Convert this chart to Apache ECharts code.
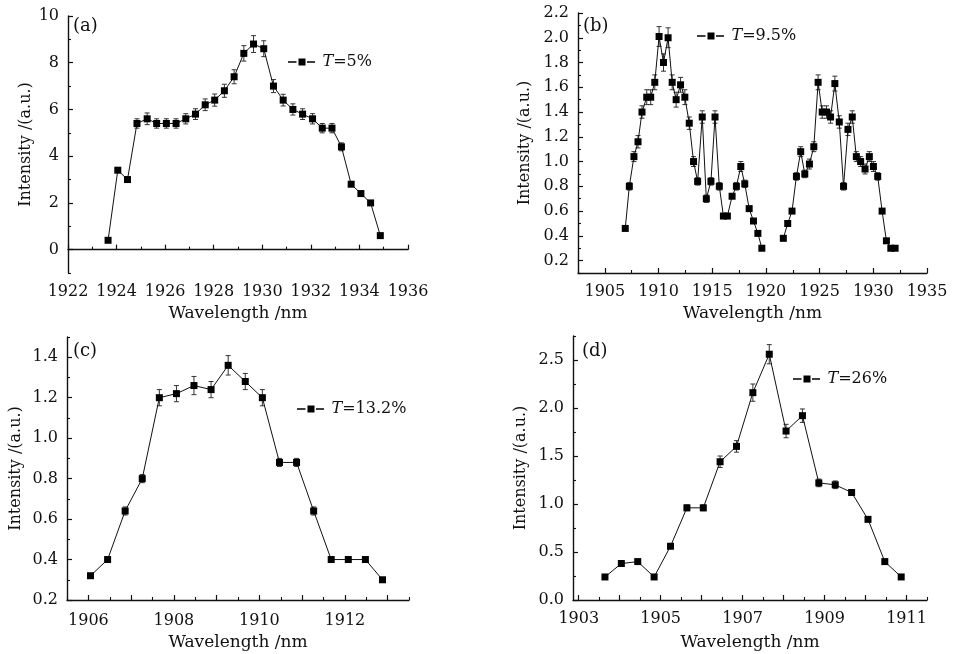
<!DOCTYPE html>
<html><head><meta charset="utf-8">
<script src="https://cdn.jsdelivr.net/npm/echarts@6/dist/echarts.min.js"></script>
<style>html,body{margin:0;padding:0;background:#fff}#c{width:953px;height:654px}</style>
</head><body><div id="c"></div>
<script>
// ---------- Panel (a): T=5% ----------
const aX = [1923.65,1924.05,1924.45,1924.84,1925.26,1925.65,1926.05,1926.45,1926.85,1927.25,1927.65,1928.04,1928.44,1928.84,1929.24,1929.64,1930.06,1930.46,1930.86,1931.26,1931.66,1932.07,1932.47,1932.87,1933.26,1933.66,1934.06,1934.46,1934.86];
const aY = [0.4,3.4,3.0,5.4,5.6,5.4,5.4,5.4,5.6,5.8,6.2,6.4,6.8,7.4,8.4,8.8,8.6,7.0,6.4,6.0,5.8,5.6,5.2,5.2,4.4,2.8,2.4,2.0,0.6];
const aErr = [0,0,0,0.2,0.25,0.2,0.2,0.2,0.22,0.23,0.25,0.26,0.28,0.3,0.33,0.36,0.34,0.28,0.25,0.24,0.23,0.22,0.2,0.2,0.17,0,0,0,0];
const aXMajor = [1922,1924,1926,1928,1930,1932,1934,1936];
const aXLabels = [1922,1924,1926,1928,1930,1932,1934,1936];
const aXMinor = [1923,1925,1927,1929,1931,1933,1935];
const aYMajor = [0,2,4,6,8,10];
const aYLabels = [0,2,4,6,8,10];
const aYMinor = [-1,1,3,5,7,9];

// ---------- Panel (b): T=9.5% ----------
const bX = [1906.90,1907.28,1907.71,1908.09,1908.46,1908.90,1909.27,1909.65,1910.05,1910.46,1910.89,1911.27,1911.64,1912.05,1912.45,1912.86,1913.26,1913.64,1914.07,1914.45,1914.88,1915.26,1915.66,1916.04,1916.41,1916.85,1917.25,1917.66,1918.03,1918.44,1918.84,1919.25,1919.62,
  1920.6,
  1921.62,1922.03,1922.43,1922.84,1923.24,1923.62,1924.05,1924.46,1924.86,1925.24,1925.64,1926.02,1926.42,1926.83,1927.23,1927.64,1928.04,1928.42,1928.82,1929.23,1929.63,1930.01,1930.41,1930.82,1931.22,1931.63,1932.03];
const bY = [0.46,0.80,1.04,1.16,1.40,1.52,1.52,1.64,2.01,1.80,2.00,1.64,1.50,1.62,1.52,1.31,1.00,0.84,1.36,0.70,0.84,1.36,0.80,0.56,0.56,0.72,0.80,0.96,0.82,0.62,0.52,0.42,0.30,
  null,
  0.38,0.50,0.60,0.88,1.08,0.90,0.98,1.12,1.64,1.40,1.40,1.36,1.63,1.32,0.80,1.26,1.36,1.04,1.00,0.94,1.04,0.96,0.88,0.60,0.36,0.30,0.30];
const bErr = [0,0.03,0.04,0.05,0.05,0.06,0.06,0.06,0.08,0.07,0.08,0.06,0.06,0.06,0.06,0.05,0.04,0.03,0.05,0.03,0.03,0.05,0.03,0,0,0,0.03,0.04,0.03,0,0,0,0,
  0,
  0,0,0,0.03,0.04,0.03,0.04,0.04,0.06,0.05,0.05,0.05,0.06,0.05,0.03,0.05,0.05,0.04,0.04,0.04,0.04,0.04,0.03,0,0,0,0];
const bXMajor = [1905,1910,1915,1920,1925,1930,1935];
const bXLabels = [1905,1910,1915,1920,1925,1930,1935];
const bXMinor = [1902.5,1907.5,1912.5,1917.5,1922.5,1927.5,1932.5];
const bYMajor = [0.2,0.4,0.6,0.8,1.0,1.2,1.4,1.6,1.8,2.0,2.2];
const bYLabels = [0.2,0.4,0.6,0.8,1.0,1.2,1.4,1.6,1.8,2.0,2.2];
const bYMinor = [0.1,0.3,0.5,0.7,0.9,1.1,1.3,1.5,1.7,1.9,2.1];

// ---------- Panel (c): T=13.2% ----------
const cX = [1906.05,1906.45,1906.86,1907.26,1907.66,1908.06,1908.47,1908.87,1909.27,1909.67,1910.07,1910.47,1910.87,1911.27,1911.68,1912.08,1912.48,1912.88];
const cY = [0.32,0.40,0.64,0.80,1.20,1.22,1.26,1.24,1.36,1.28,1.20,0.88,0.88,0.64,0.40,0.40,0.40,0.30];
const cErr = [0,0,0.02,0.02,0.04,0.04,0.045,0.04,0.048,0.04,0.04,0.02,0.02,0.02,0,0,0,0];
const cXMajor = [1906,1907,1908,1909,1910,1911,1912,1913];
const cXLabels = [1906,1908,1910,1912];
const cXMinor = [1905.5,1906.5,1907.5,1908.5,1909.5,1910.5,1911.5,1912.5,1913.5];
const cYMajor = [0.2,0.4,0.6,0.8,1.0,1.2,1.4];
const cYLabels = [0.2,0.4,0.6,0.8,1.0,1.2,1.4];
const cYMinor = [0.3,0.5,0.7,0.9,1.1,1.3,1.5];

// ---------- Panel (d): T=26% ----------
const dX = [1903.64,1904.04,1904.44,1904.84,1905.24,1905.64,1906.04,1906.45,1906.85,1907.25,1907.65,1908.06,1908.46,1908.86,1909.26,1909.66,1910.06,1910.47,1910.87];
const dY = [0.24,0.38,0.40,0.24,0.56,0.96,0.96,1.44,1.60,2.16,2.56,1.76,1.92,1.22,1.20,1.12,0.84,0.40,0.24];
const dErr = [0,0,0,0,0,0.03,0.03,0.06,0.06,0.09,0.1,0.07,0.07,0.04,0.04,0.03,0.02,0,0];
const dXMajor = [1903,1904,1905,1906,1907,1908,1909,1910,1911];
const dXLabels = [1903,1905,1907,1909,1911];
const dXMinor = [1903.5,1904.5,1905.5,1906.5,1907.5,1908.5,1909.5,1910.5,1911.5];
const dYMajor = [0,0.5,1.0,1.5,2.0,2.5];
const dYLabels = [0,0.5,1.0,1.5,2.0,2.5];
const dYMinor = [0.25,0.75,1.25,1.75,2.25,2.75];

const FONT = 'DejaVu Serif';
const INK = '#111';
const LEGEND_ICON = 'path://M0,2.8h8.5v1.4h-8.5zM10.5,0h7v7h-7zM19,2.8h8v1.4h-8z';

const panels = [
  {tag:'(a)', name:'T=5%', x:aX, y:aY, err:aErr, grid:{left:68,top:16,width:340,height:257},
   xMin:1922, xMax:1936, xMajor:aXMajor, xLabels:aXLabels, xMinor:aXMinor,
   yMin:-1, yMax:10, yMajor:aYMajor, yLabels:aYLabels, yMinor:aYMinor, yDec:0, yGap:34, xGap:32, xMargin:11,
   legend:{left:288, top:54}, tagPos:[73,17]},
  {tag:'(b)', name:'T=9.5%', x:bX, y:bY, err:bErr, grid:{left:578,top:13,width:349,height:260},
   xMin:1902.5, xMax:1935, xMajor:bXMajor, xLabels:bXLabels, xMinor:bXMinor,
   yMin:0.1, yMax:2.2, yMajor:bYMajor, yLabels:bYLabels, yMinor:bYMinor, yDec:1, yGap:45, xGap:32, xMargin:11,
   legend:{left:697, top:28}, tagPos:[583,17]},
  {tag:'(c)', name:'T=13.2%', x:cX, y:cY, err:cErr, grid:{left:67,top:337,width:342,height:263},
   xMin:1905.5, xMax:1913.5, xMajor:cXMajor, xLabels:cXLabels, xMinor:cXMinor,
   yMin:0.2, yMax:1.5, yMajor:cYMajor, yLabels:cYLabels, yMinor:cYMinor, yDec:1, yGap:43, xGap:34, xMargin:13,
   legend:{left:297, top:401}, tagPos:[73,342]},
  {tag:'(d)', name:'T=26%', x:dX, y:dY, err:dErr, grid:{left:573,top:336,width:354,height:264},
   xMin:1902.86, xMax:1911.5, xMajor:dXMajor, xLabels:dXLabels, xMinor:dXMinor,
   yMin:0, yMax:2.75, yMajor:dYMajor, yLabels:dYLabels, yMinor:dYMinor, yDec:1, yGap:44, xGap:34, xMargin:11,
   legend:{left:793, top:371}, tagPos:[582,342]}
];

const option = {animation:false, backgroundColor:'#fff', grid:[], xAxis:[], yAxis:[], series:[], legend:[], graphic:[]};

panels.forEach((p, i) => {
  option.grid.push(Object.assign({containLabel:false}, p.grid));
  const axLine = {show:true, lineStyle:{color:INK, width:1.4}};
  option.xAxis.push({
    type:'value', gridIndex:i, min:p.xMin, max:p.xMax, position:'bottom',
    name:'Wavelength /nm', nameLocation:'middle', nameGap:p.xGap,
    nameTextStyle:{fontFamily:FONT, fontSize:17, color:INK},
    axisLine:axLine, splitLine:{show:false},
    axisTick:{show:true, inside:true, length:5, lineStyle:{color:INK, width:1.2}, customValues:p.xMajor},
    axisLabel:{show:true, customValues:p.xLabels, margin:p.xMargin, fontFamily:FONT, fontSize:16, color:INK,
      formatter:v => String(Math.round(v))}
  });
  option.xAxis.push({
    type:'value', gridIndex:i, min:p.xMin, max:p.xMax, position:'bottom',
    axisLine:{show:false}, splitLine:{show:false}, axisLabel:{show:false},
    axisTick:{show:true, inside:true, length:3, lineStyle:{color:INK, width:1.1}, customValues:p.xMinor}
  });
  option.yAxis.push({
    type:'value', gridIndex:i, min:p.yMin, max:p.yMax, position:'left',
    name:'Intensity /(a.u.)', nameLocation:'middle', nameGap:p.yGap,
    nameTextStyle:{fontFamily:FONT, fontSize:16, color:INK},
    axisLine:axLine, splitLine:{show:false},
    axisTick:{show:true, inside:true, length:5, lineStyle:{color:INK, width:1.2}, customValues:p.yMajor},
    axisLabel:{show:true, customValues:p.yLabels, margin:9, fontFamily:FONT, fontSize:16, color:INK,
      formatter:v => Number(v).toFixed(p.yDec)}
  });
  option.yAxis.push({
    type:'value', gridIndex:i, min:p.yMin, max:p.yMax, position:'left',
    axisLine:{show:false}, splitLine:{show:false}, axisLabel:{show:false},
    axisTick:{show:true, inside:true, length:3, lineStyle:{color:INK, width:1.1}, customValues:p.yMinor}
  });
  const xi = i*2, yi = i*2;
  const lineData = p.x.map((x, k) => [x, p.y[k] === null ? '-' : p.y[k]]);
  const errData = p.x.map((x, k) => [x, p.y[k] === null ? 0 : p.y[k], p.err[k]]).filter((d, k) => p.y[k] !== null && p.err[k] > 0);
  option.series.push({
    type:'custom', xAxisIndex:xi, yAxisIndex:yi, z:1, silent:true,
    encode:{x:0, y:1},
    data:errData,
    renderItem:(params, api) => {
      const x = api.value(0), y = api.value(1), e = api.value(2);
      const top = api.coord([x, y + e]);
      const bot = api.coord([x, y - e]);
      const cap = 2.5;
      const st = {stroke:'#333', lineWidth:1};
      return {type:'group', children:[
        {type:'line', shape:{x1:top[0], y1:top[1], x2:bot[0], y2:bot[1]}, style:st},
        {type:'line', shape:{x1:top[0]-cap, y1:top[1], x2:top[0]+cap, y2:top[1]}, style:st},
        {type:'line', shape:{x1:bot[0]-cap, y1:bot[1], x2:bot[0]+cap, y2:bot[1]}, style:st}
      ]};
    }
  });
  option.series.push({
    type:'line', name:p.name, xAxisIndex:xi, yAxisIndex:yi, z:3,
    data:lineData, connectNulls:false, showAllSymbol:true,
    symbol:'rect', symbolSize:7,
    lineStyle:{color:INK, width:1},
    itemStyle:{color:'#000'}
  });
  option.legend.push({
    data:[{name:p.name, icon:LEGEND_ICON}], left:p.legend.left, top:p.legend.top, orient:'horizontal', padding:0,
    itemWidth:28, itemHeight:7, selectedMode:false,
    itemStyle:{color:'#000', borderWidth:0},
    formatter:n => '{i|T}' + n.slice(1),
    textStyle:{fontFamily:FONT, fontSize:16, color:INK, padding:[0,0,0,2],
      rich:{i:{fontFamily:FONT, fontSize:16, fontStyle:'italic', color:INK}}}
  });
  option.graphic.push({
    type:'text', left:p.tagPos[0], top:p.tagPos[1],
    style:{text:p.tag, fontFamily:FONT, fontSize:18, fill:INK}
  });
});

const chart = echarts.init(document.getElementById('c'), null, {renderer:'canvas'});
chart.setOption(option);
</script></body></html>
